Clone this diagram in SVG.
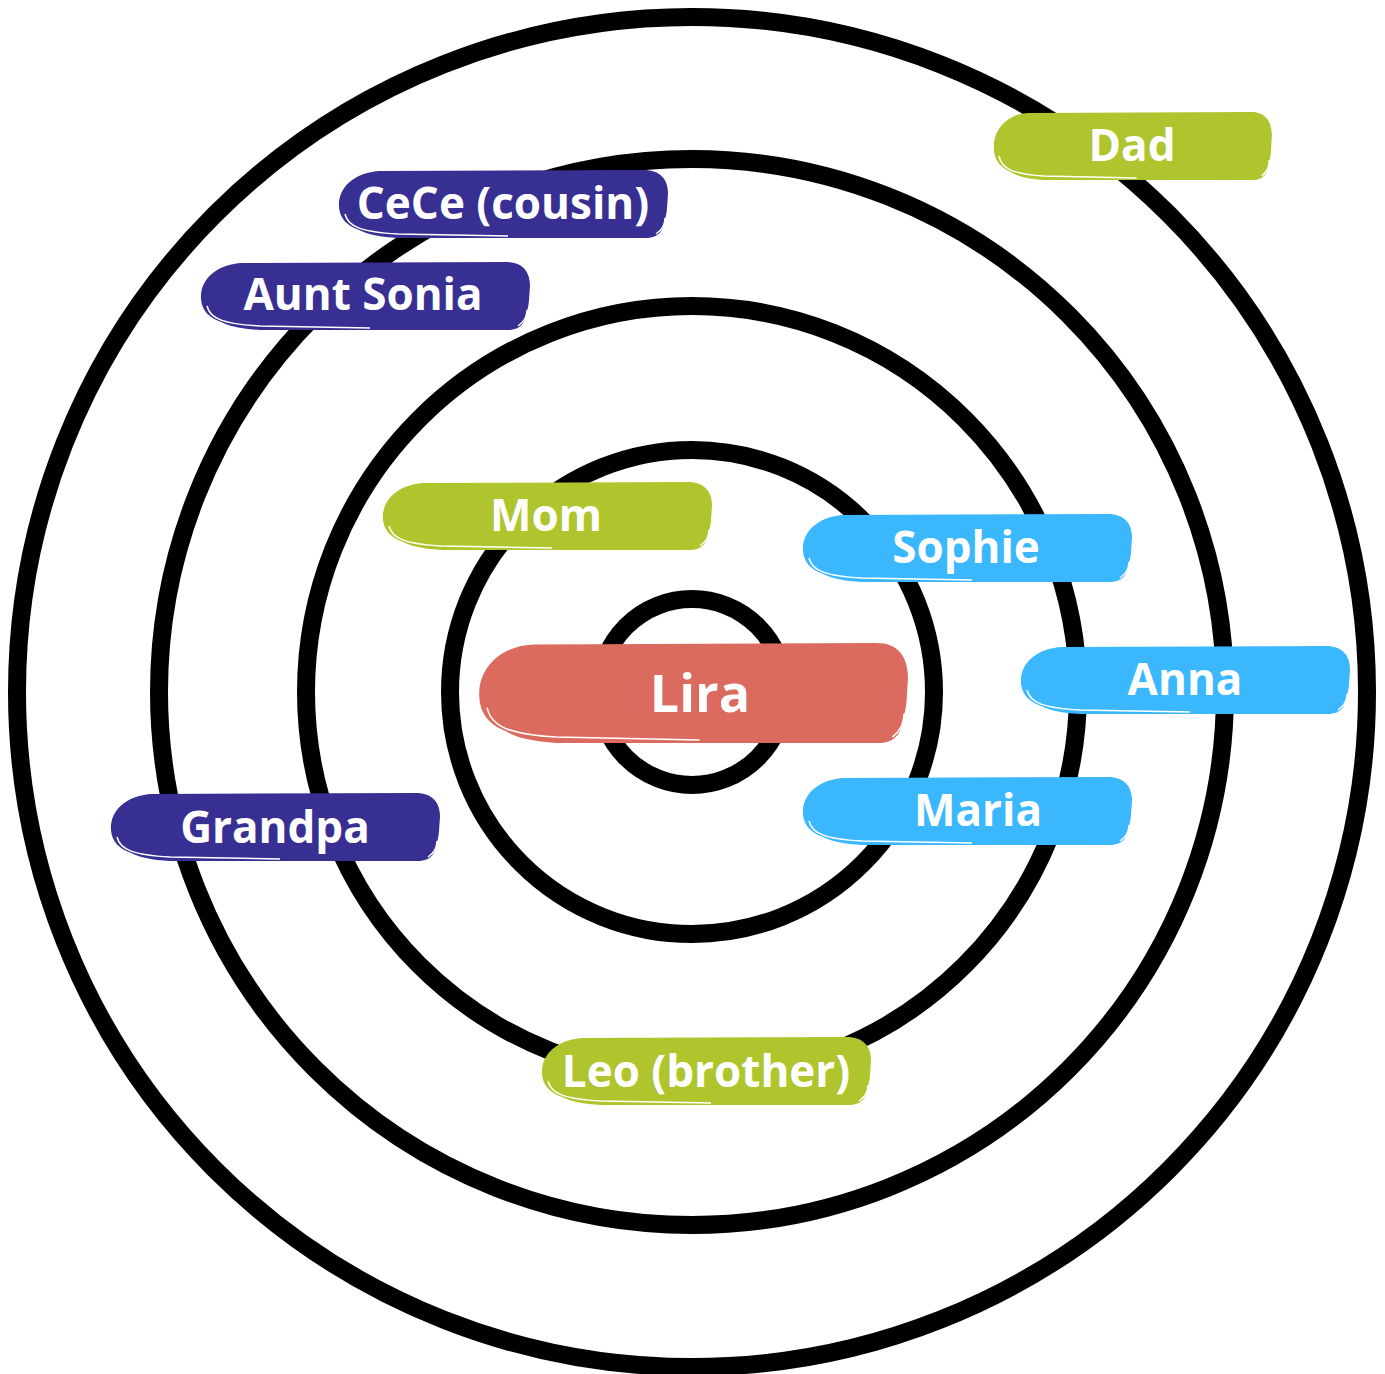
<svg xmlns="http://www.w3.org/2000/svg" width="1385" height="1374" viewBox="0 0 1385 1374">
<style>
.ring{fill:none;stroke:#000;stroke-width:18}
.lbl{font-family:"Open Sans","Noto Sans",sans-serif;font-weight:700;fill:#fff;text-anchor:middle;font-size:44px}
.gap{fill:none;stroke:#fff;stroke-width:1.5;vector-effect:non-scaling-stroke}
.green{fill:#B0C52D}.navy{fill:#372F92}.blue{fill:#3BB7FE}.red{fill:#DC6B5F}
</style>
<defs>
<g id="brush">
<path d="M8 40 C10 58 24 66 60 68 L310 68 C321 67 326 60 326 50 L320 40 L40 40 Z"/>
<path d="M42 1 C20 2 3 14 1 32 C0 48 8 60 40 64 L300 66 C320 65 328 55 329 38 L330 24 C330 9 322 0 306 0 Z"/>
<path class="gap" d="M7 44 C10 57 24 62 60 64 L170 66"/>
<path class="gap" d="M318 64 C324 60 327 54 327 48"/>
</g>
</defs>
<rect width="1385" height="1374" fill="#fff"/>
<g id="rings">
<circle class="ring" cx="692" cy="692" r="675"/>
<circle class="ring" cx="692" cy="692" r="533"/>
<circle class="ring" cx="692" cy="692" r="386"/>
<circle class="ring" cx="692" cy="692" r="242"/>
<circle class="ring" cx="692" cy="692" r="93"/>
</g>
<g id="connectors"></g>
<g id="node-dad"><use href="#brush" class="green" transform="translate(993 112) scale(0.845 1)"/><text class="lbl" x="1132" y="161">Dad</text></g>
<g id="node-cece"><use href="#brush" class="navy" transform="translate(338 170)"/><text class="lbl" x="503" y="219">CeCe (cousin)</text></g>
<g id="node-aunt-sonia"><use href="#brush" class="navy" transform="translate(200 262)"/><text class="lbl" x="363" y="310">Aunt Sonia</text></g>
<g id="node-mom"><use href="#brush" class="green" transform="translate(382 482)"/><text class="lbl" x="546" y="531">Mom</text></g>
<g id="node-sophie"><use href="#brush" class="blue" transform="translate(802 514)"/><text class="lbl" x="966" y="563">Sophie</text></g>
<g id="node-lira"><use href="#brush" class="red" transform="translate(478 643) scale(1.303 1.47)"/><text class="lbl" x="700" y="712" style="font-size:52px">Lira</text></g>
<g id="node-anna"><use href="#brush" class="blue" transform="translate(1020 646)"/><text class="lbl" x="1185" y="695">Anna</text></g>
<g id="node-maria"><use href="#brush" class="blue" transform="translate(802 777)"/><text class="lbl" x="978" y="826">Maria</text></g>
<g id="node-grandpa"><use href="#brush" class="navy" transform="translate(110 793)"/><text class="lbl" x="275" y="843">Grandpa</text></g>
<g id="node-leo"><use href="#brush" class="green" transform="translate(541 1037)"/><text class="lbl" x="706" y="1087">Leo (brother)</text></g>
</svg>
